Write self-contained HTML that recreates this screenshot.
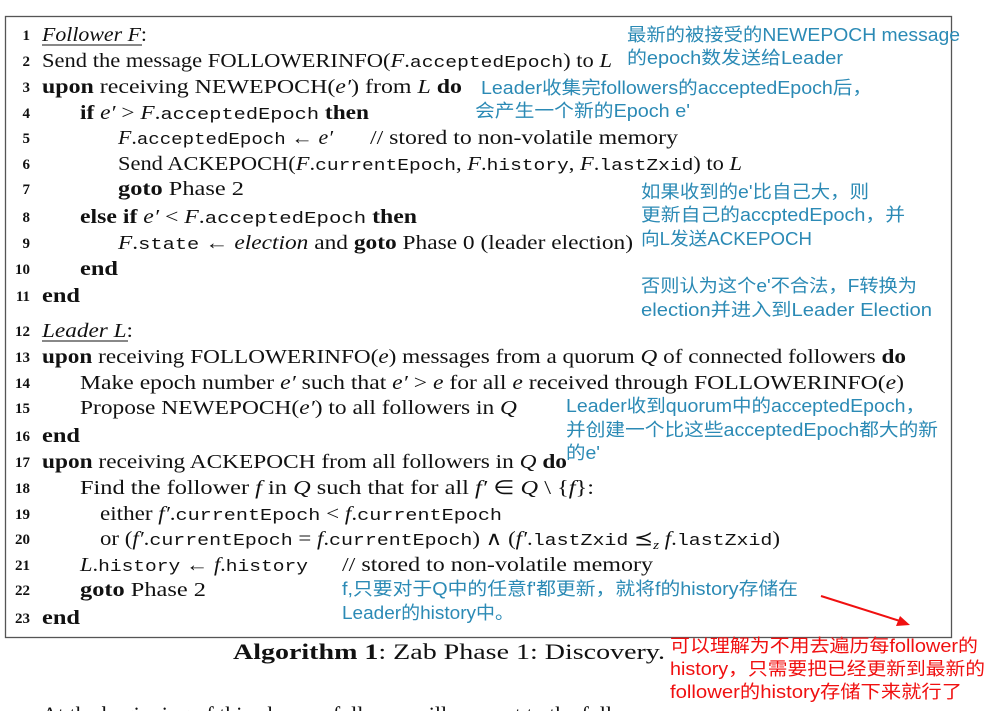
<!DOCTYPE html>
<html><head><meta charset="utf-8"><style>
html,body{margin:0;padding:0;background:#fff;width:987px;height:711px;overflow:hidden}
svg{display:block}
.s{font-family:"Liberation Serif",serif;font-size:19.5px;fill:#111}
.m{font-family:"Liberation Mono",monospace;font-size:17px}
.b{font-weight:bold}
.i{font-style:italic}
.n{font-family:"Liberation Serif",serif;font-size:15px;font-weight:bold;fill:#111}
.t{font-family:"Liberation Sans","Noto Sans CJK SC",sans-serif;font-size:18px;fill:#2b8ab5}
.r{font-family:"Liberation Sans","Noto Sans CJK SC",sans-serif;font-size:18px;fill:#f01010}
</style></head><body>
<svg width="987" height="711" viewBox="0 0 987 711" xmlns="http://www.w3.org/2000/svg">
<rect x="5.5" y="16.5" width="946" height="621" fill="none" stroke="#555" stroke-width="1.3"/>
<g class="n" text-anchor="end">
<text x="30" y="40">1</text><text x="30" y="66">2</text><text x="30" y="92">3</text><text x="30" y="118">4</text><text x="30" y="143">5</text><text x="30" y="169">6</text><text x="30" y="194">7</text><text x="30" y="222">8</text><text x="30" y="248">9</text><text x="30" y="274">10</text><text x="30" y="301">11</text><text x="30" y="336">12</text><text x="30" y="362">13</text><text x="30" y="388">14</text><text x="30" y="413">15</text><text x="30" y="441">16</text><text x="30" y="467">17</text><text x="30" y="493">18</text><text x="30" y="519">19</text><text x="30" y="544">20</text><text x="30" y="570">21</text><text x="30" y="595">22</text><text x="30" y="623">23</text>
</g>
<g class="s">
<text x="42" y="41" textLength="105" lengthAdjust="spacingAndGlyphs"><tspan class="i">Follower F</tspan>:</text>
<line x1="42" y1="45" x2="142" y2="45" stroke="#111" stroke-width="1"/>
<text x="42" y="67" textLength="570" lengthAdjust="spacingAndGlyphs">Send the message FOLLOWERINFO(<tspan class="i">F</tspan>.<tspan class="m">acceptedEpoch</tspan>) to <tspan class="i">L</tspan></text>
<text x="42" y="93" textLength="420" lengthAdjust="spacingAndGlyphs"><tspan class="b">upon</tspan> receiving NEWEPOCH(<tspan class="i">e′</tspan>) from <tspan class="i">L</tspan> <tspan class="b">do</tspan></text>
<text x="80" y="119" textLength="289" lengthAdjust="spacingAndGlyphs"><tspan class="b">if</tspan> <tspan class="i">e′</tspan> &gt; <tspan class="i">F</tspan>.<tspan class="m">acceptedEpoch</tspan> <tspan class="b">then</tspan></text>
<text x="118" y="144" textLength="215" lengthAdjust="spacingAndGlyphs"><tspan class="i">F</tspan>.<tspan class="m">acceptedEpoch</tspan> ← <tspan class="i">e′</tspan></text>
<text x="370" y="144" textLength="308" lengthAdjust="spacingAndGlyphs">// stored to non-volatile memory</text>
<text x="118" y="170" textLength="624" lengthAdjust="spacingAndGlyphs">Send ACKEPOCH(<tspan class="i">F</tspan>.<tspan class="m">currentEpoch</tspan>, <tspan class="i">F</tspan>.<tspan class="m">history</tspan>, <tspan class="i">F</tspan>.<tspan class="m">lastZxid</tspan>) to <tspan class="i">L</tspan></text>
<text x="118" y="195" textLength="126" lengthAdjust="spacingAndGlyphs"><tspan class="b">goto</tspan> Phase 2</text>
<text x="80" y="223" textLength="337" lengthAdjust="spacingAndGlyphs"><tspan class="b">else if</tspan> <tspan class="i">e′</tspan> &lt; <tspan class="i">F</tspan>.<tspan class="m">acceptedEpoch</tspan> <tspan class="b">then</tspan></text>
<text x="118" y="249" textLength="515" lengthAdjust="spacingAndGlyphs"><tspan class="i">F</tspan>.<tspan class="m">state</tspan> ← <tspan class="i">election</tspan> and <tspan class="b">goto</tspan> Phase 0 (leader election)</text>
<text x="80" y="275" textLength="38" lengthAdjust="spacingAndGlyphs" class="b">end</text>
<text x="42" y="302" textLength="38" lengthAdjust="spacingAndGlyphs" class="b">end</text>
<text x="42" y="337" textLength="91" lengthAdjust="spacingAndGlyphs"><tspan class="i">Leader L</tspan>:</text>
<line x1="42" y1="341" x2="128" y2="341" stroke="#111" stroke-width="1"/>
<text x="42" y="363" textLength="864" lengthAdjust="spacingAndGlyphs"><tspan class="b">upon</tspan> receiving FOLLOWERINFO(<tspan class="i">e</tspan>) messages from a quorum <tspan class="i">Q</tspan> of connected followers <tspan class="b">do</tspan></text>
<text x="80" y="389" textLength="824" lengthAdjust="spacingAndGlyphs">Make epoch number <tspan class="i">e′</tspan> such that <tspan class="i">e′</tspan> &gt; <tspan class="i">e</tspan> for all <tspan class="i">e</tspan> received through FOLLOWERINFO(<tspan class="i">e</tspan>)</text>
<text x="80" y="414" textLength="437" lengthAdjust="spacingAndGlyphs">Propose NEWEPOCH(<tspan class="i">e′</tspan>) to all followers in <tspan class="i">Q</tspan></text>
<text x="42" y="442" textLength="38" lengthAdjust="spacingAndGlyphs" class="b">end</text>
<text x="42" y="468" textLength="525" lengthAdjust="spacingAndGlyphs"><tspan class="b">upon</tspan> receiving ACKEPOCH from all followers in <tspan class="i">Q</tspan> <tspan class="b">do</tspan></text>
<text x="80" y="494" textLength="514" lengthAdjust="spacingAndGlyphs">Find the follower <tspan class="i">f</tspan> in <tspan class="i">Q</tspan> such that for all <tspan class="i">f′</tspan> ∈ <tspan class="i">Q</tspan> \ {<tspan class="i">f</tspan>}:</text>
<text x="100" y="520" textLength="402" lengthAdjust="spacingAndGlyphs">either <tspan class="i">f′</tspan>.<tspan class="m">currentEpoch</tspan> &lt; <tspan class="i">f</tspan>.<tspan class="m">currentEpoch</tspan></text>
<text x="100" y="545" textLength="680" lengthAdjust="spacingAndGlyphs">or (<tspan class="i">f′</tspan>.<tspan class="m">currentEpoch</tspan> = <tspan class="i">f</tspan>.<tspan class="m">currentEpoch</tspan>) ∧ (<tspan class="i">f′</tspan>.<tspan class="m">lastZxid</tspan> ⪯<tspan class="i" font-size="13" dy="4">z</tspan><tspan dy="-4"> </tspan><tspan class="i">f</tspan>.<tspan class="m">lastZxid</tspan>)</text>
<text x="80" y="571" textLength="228" lengthAdjust="spacingAndGlyphs"><tspan class="i">L</tspan>.<tspan class="m">history</tspan> ← <tspan class="i">f</tspan>.<tspan class="m">history</tspan></text>
<text x="342" y="571" textLength="311" lengthAdjust="spacingAndGlyphs">// stored to non-volatile memory</text>
<text x="80" y="596" textLength="126" lengthAdjust="spacingAndGlyphs"><tspan class="b">goto</tspan> Phase 2</text>
<text x="42" y="624" textLength="38" lengthAdjust="spacingAndGlyphs" class="b">end</text>
<text x="233" y="659" textLength="432" lengthAdjust="spacingAndGlyphs" font-size="22"><tspan class="b">Algorithm 1</tspan>: Zab Phase 1: Discovery.</text>
<text x="42" y="722" font-size="22">At the beginning of this phase, a follower will connect to the follower ...</text>
</g>
<g class="t">
<text x="627" y="41" textLength="333" lengthAdjust="spacingAndGlyphs">最新的被接受的NEWEPOCH message</text>
<text x="627" y="64" textLength="216" lengthAdjust="spacingAndGlyphs">的epoch数发送给Leader</text>
<text x="481" y="94" textLength="391" lengthAdjust="spacingAndGlyphs">Leader收集完followers的acceptedEpoch后，</text>
<text x="475" y="117" textLength="215" lengthAdjust="spacingAndGlyphs">会产生一个新的Epoch e'</text>
<text x="641" y="198" textLength="228" lengthAdjust="spacingAndGlyphs">如果收到的e'比自己大，则</text>
<text x="641" y="221" textLength="264" lengthAdjust="spacingAndGlyphs">更新自己的accptedEpoch，并</text>
<text x="641" y="245" textLength="171" lengthAdjust="spacingAndGlyphs">向L发送ACKEPOCH</text>
<text x="641" y="292" textLength="276" lengthAdjust="spacingAndGlyphs">否则认为这个e'不合法，F转换为</text>
<text x="641" y="316" textLength="291" lengthAdjust="spacingAndGlyphs">election并进入到Leader Election</text>
<text x="566" y="412" textLength="359" lengthAdjust="spacingAndGlyphs">Leader收到quorum中的acceptedEpoch，</text>
<text x="566" y="436" textLength="372" lengthAdjust="spacingAndGlyphs">并创建一个比这些acceptedEpoch都大的新</text>
<text x="566" y="459" textLength="34" lengthAdjust="spacingAndGlyphs">的e'</text>
<text x="342" y="595" textLength="456" lengthAdjust="spacingAndGlyphs">f,只要对于Q中的任意f'都更新，就将f的history存储在</text>
<text x="342" y="619" textLength="172" lengthAdjust="spacingAndGlyphs">Leader的history中。</text>
</g>
<g class="r">
<text x="670" y="652" textLength="308" lengthAdjust="spacingAndGlyphs">可以理解为不用去遍历每follower的</text>
<text x="670" y="675" textLength="315" lengthAdjust="spacingAndGlyphs">history，只需要把已经更新到最新的</text>
<text x="670" y="698" textLength="292" lengthAdjust="spacingAndGlyphs">follower的history存储下来就行了</text>
</g>
<line x1="821" y1="596" x2="900" y2="621" stroke="#f01010" stroke-width="2"/>
<polygon points="910,625 896,626 900,616" fill="#f01010"/>
</svg>
</body></html>
